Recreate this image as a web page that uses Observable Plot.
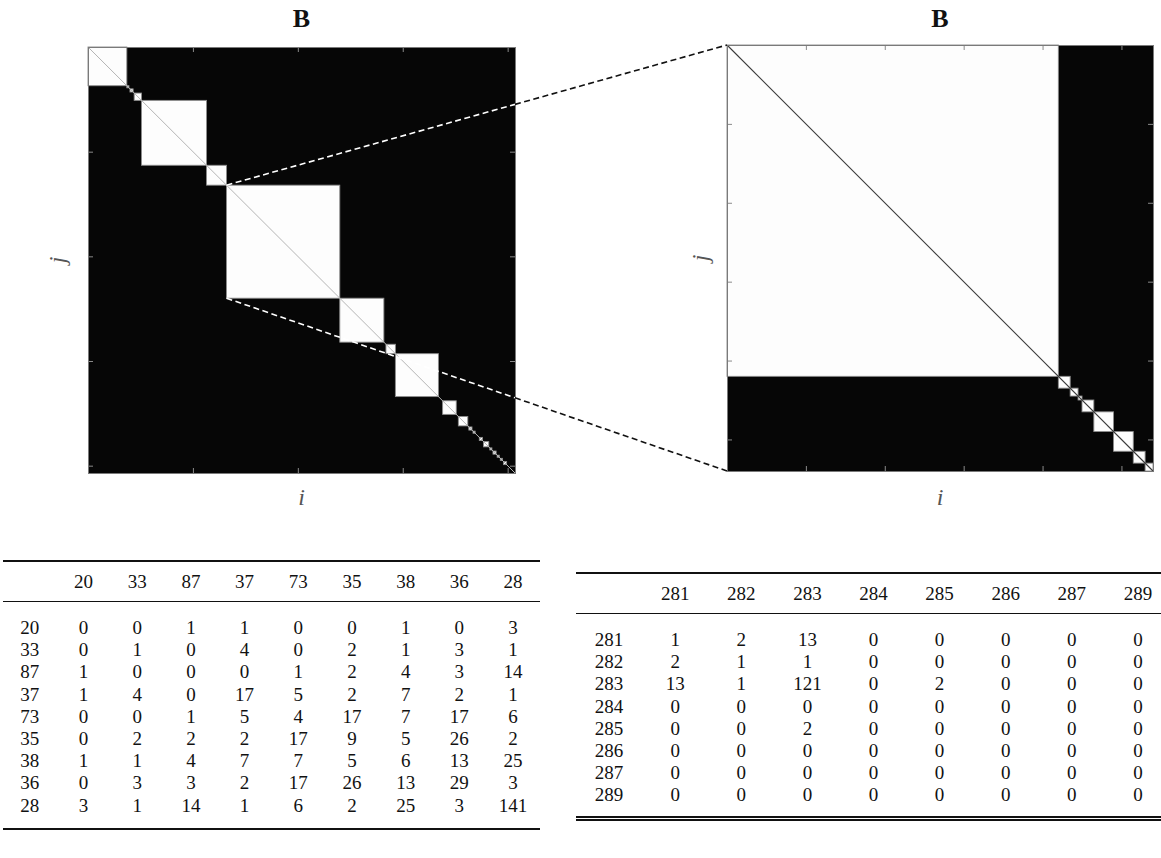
<!DOCTYPE html>
<html>
<head>
<meta charset="utf-8">
<script src="https://cdn.jsdelivr.net/npm/d3@7"></script>
<script src="https://cdn.jsdelivr.net/npm/@observablehq/plot@0.6"></script>
<style>
  html, body { margin: 0; padding: 0; background: #fff; }
  #page { position: relative; width: 1161px; height: 858px; overflow: hidden; font-family: "Liberation Serif", "DejaVu Serif", serif; }
  .abs { position: absolute; }
  .title { font-weight: bold; font-size: 26px; color: #111; transform: translate(-50%, -50%); }
  .axlab { font-style: italic; font-size: 24px; color: #555; transform: translate(-50%, -50%); }
  .axlab.rot { transform: translate(-50%, -50%) rotate(-90deg); }
  .tbl { position: absolute; border-collapse: collapse; table-layout: fixed; font-size: 19px; color: #111; }
  .tbl td { text-align: center; padding: 0; }
  .tbl thead tr { border-top: 2px solid #111; border-bottom: 1.2px solid #111; }
  .tbl tbody td { height: 22.2px; line-height: 22.2px; }
  .tbl.single tbody tr:last-child { border-bottom: 2px solid #111; }
  .tbl.double tbody tr:last-child { border-bottom: 5px double #111; }
</style>
</head>
<body>
<div id="page"></div>
<script>
// ---- matrix B: sizes and diagonal blocks (index ranges) ----
const nLeft = 407;
const nRight = 108;
const leftBlocks = [
  [0, 37], [37, 39], [40, 43], [44, 51], [51, 113], [113, 132], [132, 240],
  [240, 282], [284, 293], [293, 334], [338, 351], [353, 362], [363, 366],
  [367, 369], [373, 376], [377, 382], [383, 385], [386, 389], [390, 392],
  [393, 395], [396, 399]
];
const rightBlocks = [
  [0, 84], [84, 87], [87, 89], [89, 90], [90, 93], [93, 98], [98, 103],
  [103, 106], [106, 108]
];
const leftTicks = [100, 200, 300, 400];
const rightTicks = [20, 40, 60, 80, 100];
// block of the left matrix that is enlarged on the right
const zoomBlock = [132, 240];

// ---- table 1 ----
const cols1 = [20, 33, 87, 37, 73, 35, 38, 36, 28];
const rows1 = [20, 33, 87, 37, 73, 35, 38, 36, 28];
const vals1 = [
  [0, 0, 1, 1, 0, 0, 1, 0, 3],
  [0, 1, 0, 4, 0, 2, 1, 3, 1],
  [1, 0, 0, 0, 1, 2, 4, 3, 14],
  [1, 4, 0, 17, 5, 2, 7, 2, 1],
  [0, 0, 1, 5, 4, 17, 7, 17, 6],
  [0, 2, 2, 2, 17, 9, 5, 26, 2],
  [1, 1, 4, 7, 7, 5, 6, 13, 25],
  [0, 3, 3, 2, 17, 26, 13, 29, 3],
  [3, 1, 14, 1, 6, 2, 25, 3, 141]
];

// ---- table 2 ----
const cols2 = [281, 282, 283, 284, 285, 286, 287, 289];
const rows2 = [281, 282, 283, 284, 285, 286, 287, 289];
const vals2 = [
  [1, 2, 13, 0, 0, 0, 0, 0],
  [2, 1, 1, 0, 0, 0, 0, 0],
  [13, 1, 121, 0, 2, 0, 0, 0],
  [0, 0, 0, 0, 0, 0, 0, 0],
  [0, 0, 2, 0, 0, 0, 0, 0],
  [0, 0, 0, 0, 0, 0, 0, 0],
  [0, 0, 0, 0, 0, 0, 0, 0],
  [0, 0, 0, 0, 0, 0, 0, 0]
];

const page = document.getElementById("page");

function matrixPlot({n, blocks, ticks, width, height, m, diagColor, diagWidth}) {
  const fw = width - m.left - m.right;
  const fh = height - m.top - m.bottom;
  const tick = 5;
  const tickStyle = {stroke: "#8a8a8a", strokeWidth: 1};
  return Plot.plot({
    width, height,
    marginLeft: m.left, marginRight: m.right, marginTop: m.top, marginBottom: m.bottom,
    style: {background: "transparent", overflow: "visible"},
    x: {domain: [0, n], axis: null},
    y: {domain: [0, n], reverse: true, axis: null},
    marks: [
      Plot.frame({fill: "#060606"}),
      Plot.rect(blocks, {
        x1: d => d[0], x2: d => d[1], y1: d => d[0], y2: d => d[1],
        fill: "#fdfdfd", stroke: "#8c8c8c", strokeWidth: 0.9
      }),
      Plot.link([n], {x1: 0, y1: 0, x2: d => d, y2: d => d, stroke: diagColor, strokeWidth: diagWidth}),
      Plot.ruleX(ticks, {x: d => d, insetBottom: fh - tick, ...tickStyle}),
      Plot.ruleX(ticks, {x: d => d, insetTop: fh - tick, ...tickStyle}),
      Plot.ruleY(ticks, {y: d => d, insetRight: fw - tick, ...tickStyle}),
      Plot.ruleY(ticks, {y: d => d, insetLeft: fw - tick, ...tickStyle}),
      Plot.frame({stroke: "#7a7a7a", strokeWidth: 1})
    ]
  });
}

function place(node, left, top) {
  node.style.position = "absolute";
  node.style.left = left + "px";
  node.style.top = top + "px";
  page.appendChild(node);
  return node;
}

const offL = {x: 0, y: 0};
const offR = {x: 640, y: 0};

const chartL = place(matrixPlot({
  n: nLeft, blocks: leftBlocks, ticks: leftTicks, width: 540, height: 520,
  m: {left: 88, right: 25, top: 47, bottom: 47},
  diagColor: "#b5b5b5", diagWidth: 1
}), offL.x, offL.y);

const chartR = place(matrixPlot({
  n: nRight, blocks: rightBlocks, ticks: rightTicks, width: 521, height: 520,
  m: {left: 87, right: 8, top: 45, bottom: 49},
  diagColor: "#3a3a3a", diagWidth: 1.1
}), offR.x, offR.y);

// dashed connectors from the enlarged block to the right-hand matrix
const sxL = chartL.scale("x"), syL = chartL.scale("y");
const sxR = chartR.scale("x"), syR = chartR.scale("y");
const overlay = d3.select(page).append("svg")
  .attr("width", 1161).attr("height", 858)
  .style("position", "absolute").style("left", 0).style("top", 0)
  .style("pointer-events", "none");
const edgeX = offL.x + sxL.apply(nLeft);
const connectors = [
  {from: [zoomBlock[0], zoomBlock[0]], to: [0, 0]},
  {from: [zoomBlock[0], zoomBlock[1]], to: [0, nRight]}
];
for (const c of connectors) {
  const x0 = offL.x + sxL.apply(c.from[0]), y0 = offL.y + syL.apply(c.from[1]);
  const x1 = offR.x + sxR.apply(c.to[0]), y1 = offR.y + syR.apply(c.to[1]);
  const t = (edgeX - x0) / (x1 - x0);
  const ye = y0 + t * (y1 - y0);
  overlay.append("line").attr("x1", x0).attr("y1", y0).attr("x2", edgeX).attr("y2", ye)
    .attr("stroke", "#fff").attr("stroke-width", 1.6).attr("stroke-dasharray", "6,3.5");
  overlay.append("line").attr("x1", edgeX).attr("y1", ye).attr("x2", x1).attr("y2", y1)
    .attr("stroke", "#111").attr("stroke-width", 1.6).attr("stroke-dasharray", "6,3.5");
}

// titles and axis labels
function label(text, cls, x, y) {
  const d = document.createElement("div");
  d.className = "abs " + cls;
  d.textContent = text;
  d.style.left = x + "px";
  d.style.top = y + "px";
  page.appendChild(d);
}
const cxL = offL.x + sxL.apply(nLeft / 2), cyL = offL.y + syL.apply(nLeft / 2);
const cxR = offR.x + sxR.apply(nRight / 2), cyR = offR.y + syR.apply(nRight / 2);
label("B", "title", cxL, 19);
label("B", "title", cxR, 19);
label("i", "axlab", cxL, 497);
label("i", "axlab", cxR, 497);
label("j", "axlab rot", 57, cyL);
label("j", "axlab rot", 700, cyR);

// booktabs-style tables
function table(cols, rows, vals, {left, top, width, cls, gapTop, gapBottom}) {
  const t = document.createElement("table");
  t.className = "tbl " + cls;
  t.style.left = left + "px";
  t.style.top = top + "px";
  t.style.width = width + "px";
  const colW = width / (cols.length + 1);
  const cg = document.createElement("colgroup");
  for (let i = 0; i <= cols.length; i++) {
    const c = document.createElement("col");
    c.style.width = colW + "px";
    cg.appendChild(c);
  }
  t.appendChild(cg);
  const thead = document.createElement("thead");
  const hr = document.createElement("tr");
  [""].concat(cols).forEach(v => {
    const td = document.createElement("td");
    td.textContent = v;
    td.style.height = "39px";
    hr.appendChild(td);
  });
  thead.appendChild(hr);
  t.appendChild(thead);
  const tbody = document.createElement("tbody");
  const gapRow = h => {
    const r = document.createElement("tr");
    const td = document.createElement("td");
    td.colSpan = cols.length + 1;
    td.style.height = h + "px";
    td.style.lineHeight = h + "px";
    r.appendChild(td);
    return r;
  };
  tbody.appendChild(gapRow(gapTop));
  rows.forEach((rl, i) => {
    const r = document.createElement("tr");
    [rl].concat(vals[i]).forEach(v => {
      const td = document.createElement("td");
      td.textContent = v;
      r.appendChild(td);
    });
    tbody.appendChild(r);
  });
  tbody.appendChild(gapRow(gapBottom));
  t.appendChild(tbody);
  page.appendChild(t);
}
table(cols1, rows1, vals1, {left: 3, top: 560, width: 537, cls: "single", gapTop: 15, gapBottom: 11});
table(cols2, rows2, vals2, {left: 576, top: 572, width: 595, cls: "double", gapTop: 15, gapBottom: 9});
</script>
</body>
</html>
